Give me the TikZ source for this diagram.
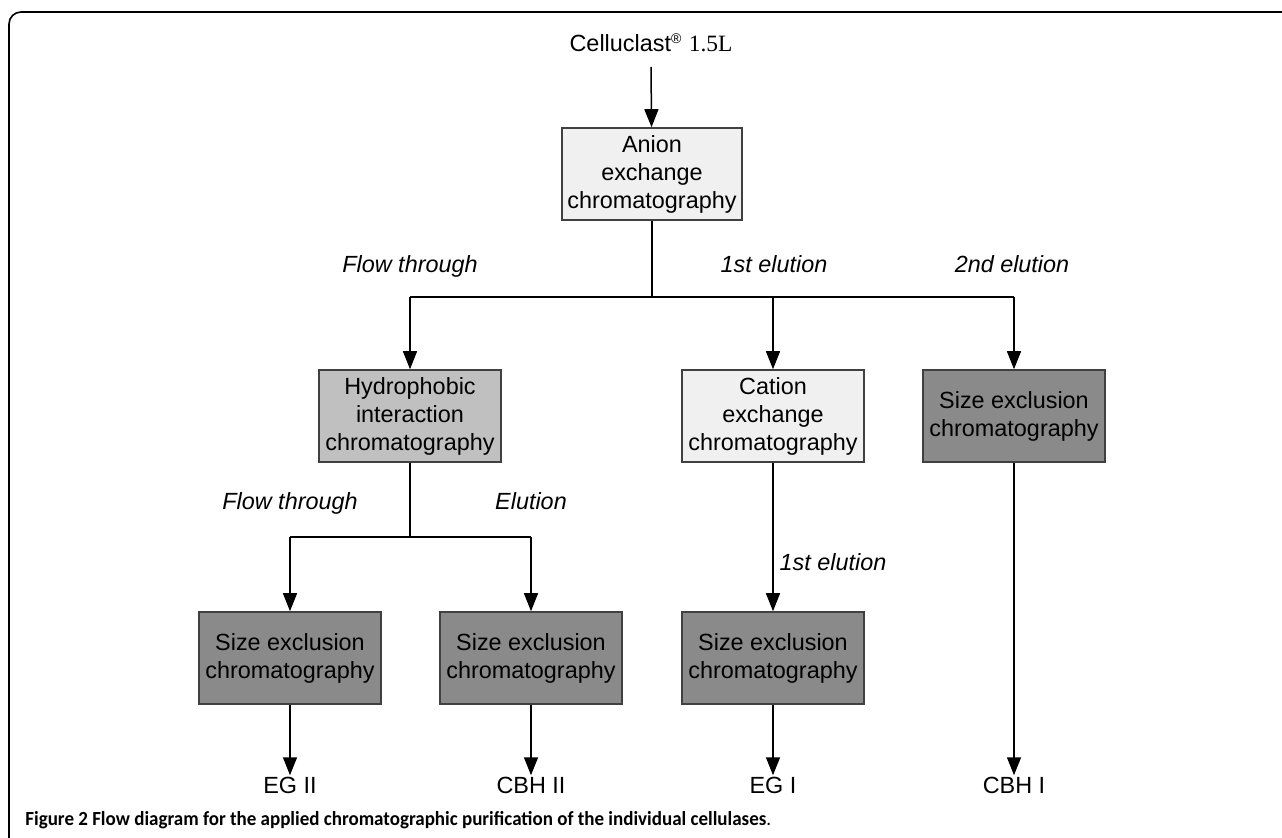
\documentclass[tikz,border=0pt]{standalone}
\usepackage{fontspec}
\setmainfont{Liberation Sans}
\newfontfamily\timesf{Liberation Serif}
\newfontfamily\capf{Carlito}
\usetikzlibrary{arrows.meta}
\definecolor{boxline}{HTML}{404040}
\definecolor{lightfill}{HTML}{F0F0F0}
\definecolor{midfill}{HTML}{C0C0C0}
\definecolor{darkfill}{HTML}{8A8A8A}
\tikzset{
  procbox/.style={draw=boxline, line width=0.8pt, minimum width=91pt, minimum height=46pt,
    align=center, inner sep=1pt, font=\fontsize{11.7}{14}\selectfont},
  anionbox/.style={procbox, fill=lightfill, minimum width=90pt},
  hydrobox/.style={procbox, fill=midfill},
  secbox/.style={procbox, fill=darkfill},
  arr/.style={line width=0.75pt, -{Triangle[length=9pt,width=7pt]}},
  ln/.style={line width=0.75pt},
  lbl/.style={font=\fontsize{11.7}{14}\selectfont\itshape, anchor=base},
  outl/.style={font=\fontsize{11.7}{14}\selectfont, anchor=base, inner sep=1pt},
}
\begin{document}
\begin{tikzpicture}[x=0.5pt,y=-0.5pt]
\useasboundingbox (0,0) rectangle (1282,838);
% frame
\draw[line width=0.8pt, rounded corners=6pt] (9,838) -- (9,12) -- (1282,12);
% nodes
\node[outl] (cel) at (651,52) {Celluclast\textsuperscript{\scriptsize\textregistered}~{\timesf 1.5L}};
\node[anionbox] (anion) at (652,174) {Anion\\exchange\\chromatography};
\node[hydrobox] (hydro) at (410,416) {Hydrophobic\\interaction\\chromatography};
\node[procbox, fill=lightfill] (cation) at (773,416) {Cation\\exchange\\chromatography};
\node[secbox] (sec4) at (1014,416) {Size exclusion\\chromatography};
\node[secbox] (sec1) at (290,658) {Size exclusion\\chromatography};
\node[secbox] (sec2) at (531,658) {Size exclusion\\chromatography};
\node[secbox] (sec3) at (773,658) {Size exclusion\\chromatography};
\node[outl] (o1) at (290,794) {EG II};
\node[outl] (o2) at (531,794) {CBH II};
\node[outl] (o3) at (773,794) {EG I};
\node[outl] (o4) at (1014,794) {CBH I};
% labels
\node[lbl] (l1) at (410,273) {Flow through};
\node[lbl] (l2) at (774,273) {1st elution};
\node[lbl] (l3) at (1012,273) {2nd elution};
\node[lbl] (l4) at (290,510) {Flow through};
\node[lbl] (l5) at (531,510) {Elution};
\node[lbl] (l6) at (833,571) {1st elution};
% junctions
\coordinate (jA) at (652,297);
\coordinate (jL) at (410,297);
\coordinate (jM) at (773,297);
\coordinate (jR) at (1014,297);
\coordinate (kA) at (410,537);
\coordinate (kL) at (290,537);
\coordinate (kR) at (531,537);
% connectors
\draw[arr] (cel.south |- 0,67) -- (anion);
\draw[ln] (anion) -- (jA);
\draw[ln] (jL) -- (jR);
\draw[arr] (jL) -- (hydro);
\draw[arr] (jM) -- (cation);
\draw[arr] (jR) -- (sec4);
\draw[ln] (hydro) -- (kA);
\draw[ln] (kL) -- (kR);
\draw[arr] (kL) -- (sec1);
\draw[arr] (kR) -- (sec2);
\draw[arr] (cation) -- (sec3);
\draw[arr] (sec1) -- (o1);
\draw[arr] (sec2) -- (o2);
\draw[arr] (sec3) -- (o3);
\draw[arr] (sec4) -- (o4);
% caption
\node[anchor=base west, inner sep=0pt, font=\capf\fontsize{10}{12}\selectfont, xscale=0.95] (cap) at (25,826)
  {\textbf{Figure 2 Flow diagram for the applied chromatographic purification of the individual cellulases}.};
\end{tikzpicture}
\end{document}
